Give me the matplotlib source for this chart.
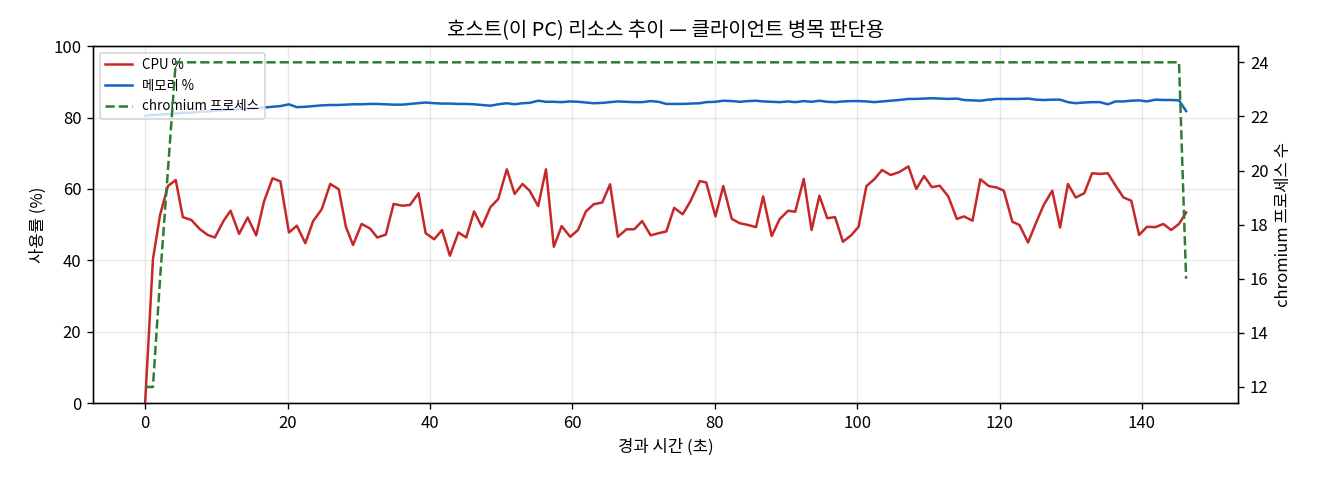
"""Host resource trend chart (CPU / memory / chromium process count)."""

import matplotlib
matplotlib.use('Agg')
import matplotlib.pyplot as plt

plt.rcParams['font.family'] = ['Noto Sans CJK KR', 'DejaVu Sans']
plt.rcParams['axes.unicode_minus'] = False

# elapsed seconds of each sample
elapsed = [
    0, 1.1, 2.1, 3.2, 4.3, 5.3, 6.5, 7.7, 8.8, 9.8, 11.0, 12.0, 13.2, 14.4, 15.6,
    16.7, 17.9, 19.0, 20.2, 21.3, 22.5, 23.6, 24.8, 26.0, 27.2, 28.2,
    29.2, 30.4, 31.6, 32.6, 33.8, 34.9, 36.1, 37.2, 38.4, 39.4, 40.6, 41.7, 42.8,
    44.0, 45.1, 46.2, 47.3, 48.5, 49.6, 50.8, 51.9, 53.0, 54.0, 55.2, 56.3, 57.4,
    58.5, 59.7, 60.8, 61.9, 63.0, 64.2, 65.3, 66.4, 67.6, 68.7, 69.8, 71.0, 72.1,
    73.2, 74.3, 75.5, 76.6, 77.9, 78.8, 80.1, 81.2, 82.4, 83.5, 84.7, 85.8,
    86.8, 88.0, 89.1, 90.3, 91.3, 92.5, 93.6, 94.7, 95.8, 96.9, 98.0, 99.2, 100.2,
    101.3, 102.4, 103.5, 104.7, 105.9, 107.2, 108.3, 109.4, 110.5, 111.6, 112.8,
    114.0, 115.0,
    116.2, 117.3, 118.5, 119.6, 120.6, 121.8, 122.8, 124.0, 125.1, 126.2, 127.4,
    128.5, 129.6, 130.7, 131.9, 133.0, 134.1, 135.2, 136.3, 137.4, 138.5, 139.6,
    140.7, 141.9, 143.0, 144.1, 145.2, 146.2,
]

cpu = [
    0, 40.3, 52.7, 60.8, 62.5, 52.1, 51.3, 48.7, 47.1, 46.4, 51.0, 53.9, 47.4,
    52.0, 47.0, 56.5, 63.0, 62.1, 47.8, 49.7, 44.8, 51.0, 54.3, 61.4, 59.9, 49.4,
    44.3, 50.2, 48.9, 46.4, 47.2, 55.8, 55.3, 55.5, 58.8, 47.6, 45.9, 48.5, 41.3,
    47.8, 46.4, 53.7, 49.4, 54.9, 57.2, 65.5, 58.6, 61.4, 59.5, 55.2, 65.5, 43.8,
    49.6, 46.6, 48.5, 53.7, 55.7, 56.2, 61.3, 46.6, 48.7, 48.7, 51.0, 47.0, 47.6,
    48.1, 54.7, 52.9, 56.6, 62.2, 61.8, 52.3, 60.8, 51.6, 50.4, 49.9, 49.3,
    57.9, 46.8, 51.5, 53.9, 53.6, 62.8, 48.5, 58.1, 51.8, 52.1, 45.2, 47.1, 49.4,
    60.8, 62.7, 65.3, 63.9, 64.7, 66.3, 60.0, 63.6, 60.5, 60.9, 57.9, 51.6, 52.3,
    51.1, 62.7, 60.8, 60.4, 59.5, 50.8, 49.9, 45.0, 50.4, 55.5, 59.5, 49.2, 61.4,
    57.6, 58.8, 64.4, 64.2, 64.4, 60.9, 57.6, 56.7, 47.1, 49.4, 49.3, 50.2, 48.5,
    50.2, 53.4,
]

memory = [
    80.5, 80.7, 80.8, 81.0, 81.1, 81.3, 81.4, 81.6, 81.7, 81.9, 82.0, 82.2, 82.3,
    82.5, 82.6, 82.8, 83.0, 83.2, 83.7, 82.9, 83.0, 83.2, 83.4, 83.5, 83.5, 83.6,
    83.7, 83.7, 83.8, 83.8, 83.7, 83.6, 83.6, 83.8, 84.0, 84.2, 84.0, 83.9, 83.9,
    83.8, 83.8, 83.7, 83.5, 83.3, 83.7, 84.0, 83.7, 84.0, 84.1, 84.7, 84.4, 84.4,
    84.3, 84.5, 84.4, 84.2, 84.0, 84.1, 84.3, 84.5, 84.4, 84.3, 84.3, 84.6, 84.4,
    83.8, 83.8, 83.8, 83.9, 84.0, 84.3, 84.4, 84.7, 84.6, 84.4, 84.6, 84.7,
    84.5, 84.4, 84.3, 84.5, 84.3, 84.6, 84.4, 84.7, 84.4, 84.3, 84.5, 84.6, 84.6,
    84.5, 84.3, 84.5, 84.7, 84.9, 85.2, 85.2, 85.3, 85.4, 85.3, 85.2, 85.3, 84.9,
    84.8, 84.7, 85.0, 85.2, 85.2, 85.2, 85.2, 85.3, 85.0, 84.9, 85.0, 85.0, 84.3,
    84.0, 84.2, 84.3, 84.3, 83.7, 84.5, 84.5, 84.7, 84.8, 84.5, 85.0, 84.9, 84.9,
    84.8, 81.8,
]

chromium = [12, 12, 16, 20] + [24] * 126 + [16]

fig = plt.figure(figsize=(11, 4), dpi=120)
ax = fig.add_axes([0.0705, 0.160, 0.8675, 0.744])

l1, = ax.plot(elapsed, cpu, color='#c62828', lw=1.5, label='CPU %')
l2, = ax.plot(elapsed, memory, color='#1565c0', lw=1.5, label='메모리 %')
ax.set_ylim(0, 100)
ax.set_xlabel('경과 시간 (초)')
ax.set_ylabel('사용률 (%)')
ax.grid(True, alpha=0.3)
ax.set_title('호스트(이 PC) 리소스 추이 — 클라이언트 병목 판단용', fontsize=12)

ax2 = ax.twinx()
l3, = ax2.plot(elapsed, chromium, color='#2e7d32', lw=1.5, ls='--',
               label='chromium 프로세스')
ax2.set_ylabel('chromium 프로세스 수')

ax.legend([l1, l2, l3], [l.get_label() for l in (l1, l2, l3)],
          loc='upper left', fontsize=8)

fig.savefig('out.png', dpi=120)
